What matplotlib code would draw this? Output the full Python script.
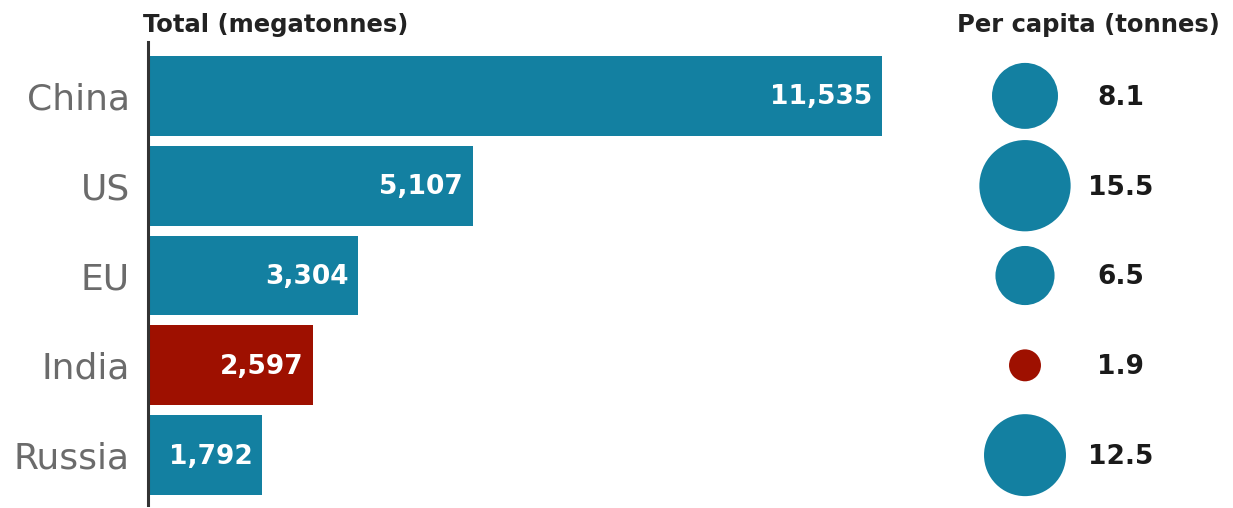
import matplotlib.pyplot as plt

# Data
countries = ['China', 'US', 'EU', 'India', 'Russia']
total_mt = [11535, 5107, 3304, 2597, 1792]
per_capita = [8.1, 15.5, 6.5, 1.9, 12.5]
highlight = 'India'

teal = '#1380a1'
red = '#9e1000'
colors = [red if c == highlight else teal for c in countries]

W, H = 1233, 508
fig = plt.figure(figsize=(W / 100, H / 100), dpi=100)

# bar panel: spine at x=148px, spans y 42..505 px from top
ax = fig.add_axes([148 / W, 3 / H, (940 - 148) / W, 463 / H])
ypos = list(range(len(countries)))
ax.barh(ypos, total_mt, height=0.89, color=colors)
ax.set_xlim(0, (940 - 148) / ((882 - 148) / 11535))
ax.set_ylim(len(countries) - 0.445, -0.6)

for y, v in zip(ypos, total_mt):
    ax.annotate(f'{v:,}', (v, y), xytext=(-7, -1), textcoords='offset points',
                ha='right', va='center', color='white', fontsize=19,
                fontweight='bold')

ax.set_yticks(ypos)
ax.set_yticklabels(countries, fontsize=26, color='#6b6b6b')
ax.tick_params(axis='y', length=0, pad=13)
ax.set_xticks([])
for s in ['top', 'right', 'bottom']:
    ax.spines[s].set_visible(False)
ax.spines['left'].set_linewidth(2.2)
ax.spines['left'].set_color('#333333')

# per capita bubbles (area proportional to value)
ax2 = fig.add_axes([960 / W, 3 / H, (W - 960) / W, 463 / H])
ax2.set_ylim(len(countries) - 0.445, -0.6)
ax2.set_xlim(960, W)
sizes = [278.7 * v for v in per_capita]
ax2.scatter([1025] * len(countries), ypos, s=sizes, color=colors, linewidths=0)
for y, v in zip(ypos, per_capita):
    ax2.text(1121, y + 0.02, f'{v}', ha='center', va='center', fontsize=19,
             fontweight='bold', color='#1a1a1a')
ax2.axis('off')

fig.text(143 / W, 1 - 25 / H, 'Total (megatonnes)', ha='left', va='center',
         fontsize=17.5, fontweight='bold', color='#222222')
fig.text(1088 / W, 1 - 25 / H, 'Per capita (tonnes)', ha='center', va='center',
         fontsize=17.5, fontweight='bold', color='#222222')

fig.savefig('out.png', dpi=100)
